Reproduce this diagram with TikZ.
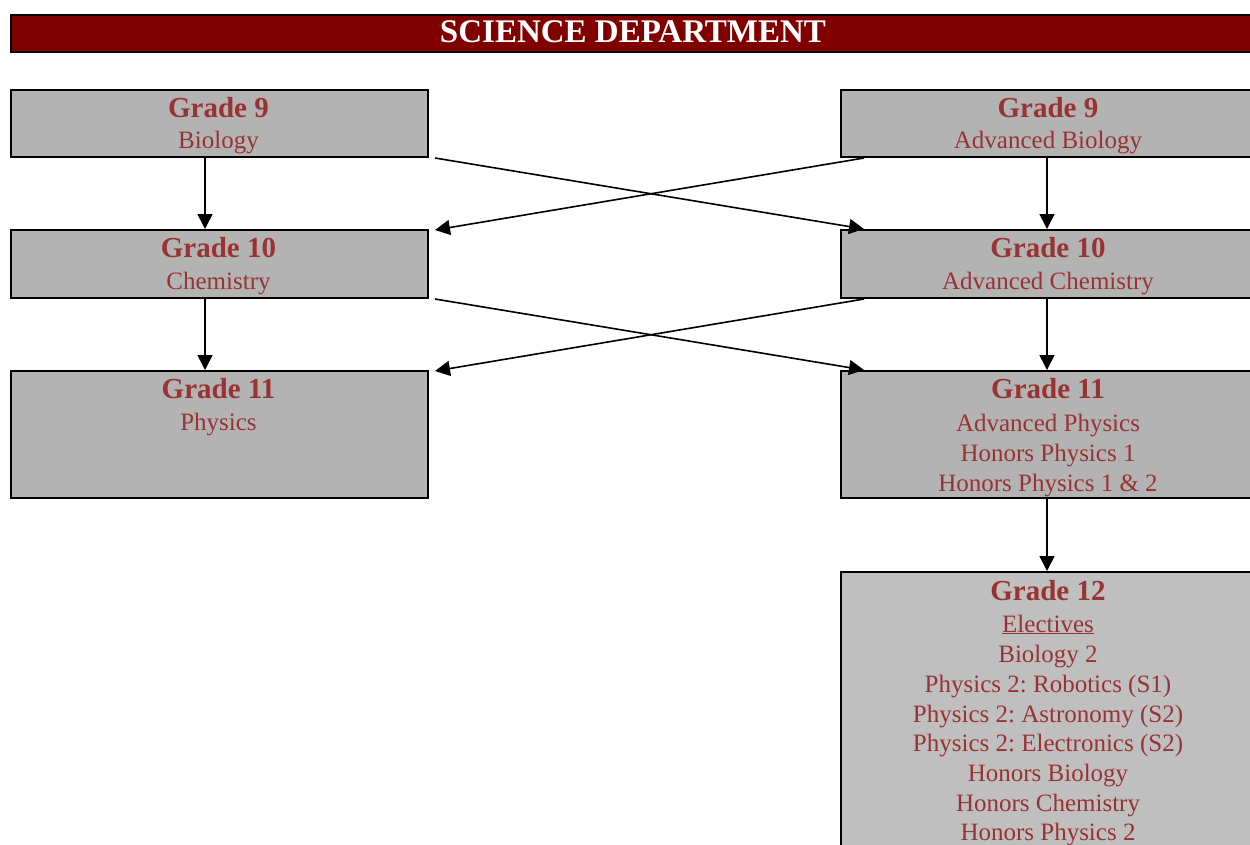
\documentclass[tikz,border=0pt]{standalone}
\usepackage{fontspec}
\setmainfont{Liberation Serif}
\usetikzlibrary{arrows.meta}
\frenchspacing
\definecolor{titlered}{RGB}{128,0,0}
\definecolor{boxgray}{RGB}{179,179,179}
\definecolor{boxgraylight}{RGB}{191,191,191}
\definecolor{txtred}{RGB}{153,51,51}
\tikzset{
  box/.style={draw=black, line width=2pt, fill=boxgray, rectangle, inner sep=0pt, anchor=north west},
  hd/.style={anchor=base, inner sep=0pt, text=txtred, font=\fontsize{29}{32}\selectfont\bfseries},
  ln/.style={anchor=base, inner sep=0pt, text=txtred, font=\fontsize{25}{30}\selectfont},
  arr/.style={line width=1.6pt, -{Triangle[length=15pt,width=15pt]}}
}
\begin{document}
\begin{tikzpicture}[x=1pt,y=-1pt]
\useasboundingbox (0,0) rectangle (1250,844);
\clip (0,0) rectangle (1250,844);
% title
\node[draw=black, line width=2pt, fill=titlered, rectangle, inner sep=0pt, anchor=north west,
      minimum width=1250pt, minimum height=37pt] (title) at (10,14) {};
\node[anchor=base, inner sep=0pt, text=white, font=\fontsize{33}{36}\selectfont\bfseries] (titletext) at (633,42) {SCIENCE DEPARTMENT};
% boxes
\node[box, minimum width=417pt, minimum height=67pt] (g9l) at (10,89) {};
\node[box, minimum width=416pt, minimum height=67pt] (g9r) at (840,89) {};
\node[box, minimum width=417pt, minimum height=68pt] (g10l) at (10,229) {};
\node[box, minimum width=416pt, minimum height=68pt] (g10r) at (840,229) {};
\node[box, minimum width=417pt, minimum height=127pt] (g11l) at (10,370) {};
\node[box, minimum width=416pt, minimum height=127pt] (g11r) at (840,370) {};
\node[box, fill=boxgraylight, minimum width=416pt, minimum height=300pt] (g12) at (840,571) {};
% texts
\node[hd] (g9lh) at (218.5,117) {Grade 9};
\node[ln] (g9lt) at (218.5,148) {Biology};
\node[hd] (g9rh) at (1048,117) {Grade 9};
\node[ln] (g9rt) at (1048,148) {Advanced Biology};
\node[hd] (g10lh) at (218.5,257) {Grade 10};
\node[ln] (g10lt) at (218.5,289) {Chemistry};
\node[hd] (g10rh) at (1048,257) {Grade 10};
\node[ln] (g10rt) at (1048,289) {Advanced Chemistry};
\node[hd] (g11lh) at (218.5,398) {Grade 11};
\node[ln] (g11lt) at (218.5,430) {Physics};
\node[hd] (g11rh) at (1048,398) {Grade 11};
\node[ln] (g11r1) at (1048,431) {Advanced Physics};
\node[ln] (g11r2) at (1048,461) {Honors Physics 1};
\node[ln] (g11r3) at (1048,491) {Honors Physics 1 \& 2};
\node[hd] (g12h) at (1048,600) {Grade 12};
\node[ln] (g12a) at (1048,632) {\underline{Electives}};
\node[ln] (g12b) at (1048,662) {Biology 2};
\node[ln] (g12c) at (1048,692) {Physics 2: Robotics (S1)};
\node[ln] (g12d) at (1048,722) {Physics 2: Astronomy (S2)};
\node[ln] (g12e) at (1048,751) {Physics 2: Electronics (S2)};
\node[ln] (g12f) at (1048,781) {Honors Biology};
\node[ln] (g12g) at (1048,811) {Honors Chemistry};
\node[ln] (g12i) at (1048,840) {Honors Physics 2};
% vertical arrows
\draw[arr] ([xshift=-14.5pt]g9l.south) -- ([xshift=-14.5pt]g10l.north);
\draw[arr] ([xshift=-14.5pt]g10l.south) -- ([xshift=-14.5pt]g11l.north);
\draw[arr] ([xshift=-2pt]g9r.south) -- ([xshift=-2pt]g10r.north);
\draw[arr] ([xshift=-2pt]g10r.south) -- ([xshift=-2pt]g11r.north);
\draw[arr] ([xshift=-2pt]g11r.south) -- ([xshift=-2pt]g12.north);
% crossing arrows
\draw[arr] ([xshift=6pt]g9l.south east) -- ([xshift=24pt]g10r.north west);
\draw[arr] ([xshift=24pt]g9r.south west) -- ([xshift=6pt,yshift=-1pt]g10l.north east);
\draw[arr] ([xshift=6pt]g10l.south east) -- ([xshift=24pt]g11r.north west);
\draw[arr] ([xshift=24pt]g10r.south west) -- ([xshift=6pt,yshift=-1pt]g11l.north east);
\end{tikzpicture}
\end{document}
